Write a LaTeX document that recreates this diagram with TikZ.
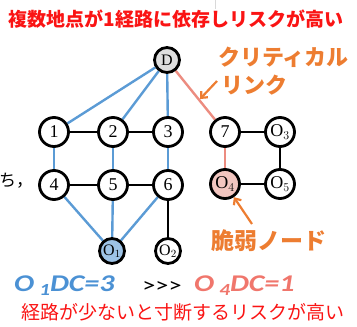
\documentclass[tikz,border=0pt]{standalone}
\usepackage{fontspec}
\setmainfont{Liberation Serif}
\newfontfamily\jp{Noto Sans CJK JP}
\newfontfamily\carl{Carlito}
\usetikzlibrary{arrows.meta,backgrounds}
\definecolor{eblue}{RGB}{91,155,213}
\definecolor{esalmon}{RGB}{236,140,128}
\definecolor{orng}{RGB}{237,125,49}
\definecolor{pinkfill}{RGB}{242,198,192}
\definecolor{bluefill}{RGB}{157,195,230}
\definecolor{grayfill}{RGB}{222,222,222}
\definecolor{dcblue}{RGB}{75,145,212}
\definecolor{dcred}{RGB}{240,118,108}
\definecolor{tred}{RGB}{250,20,20}
\tikzset{
  gnode/.style={circle,draw=black,line width=2.8pt,fill=white,minimum size=29pt,inner sep=0pt,font=\fontsize{18}{18}\selectfont},
  snode/.style={gnode,minimum size=25pt,font=\fontsize{16}{16}\selectfont},
  bedge/.style={draw=eblue,line width=2.4pt},
  kedge/.style={draw=black,line width=2.8pt},
  redge/.style={draw=esalmon,line width=2.4pt},
  oarrow/.style={draw=orng,line width=2.2pt,-{Straight Barb[length=5pt,width=9pt]}},
  otext/.style={text=orng,anchor=west,inner sep=0pt},
  dctext/.style={anchor=west,inner sep=0pt,font=\carl\bfseries\itshape\fontsize{24}{24}\selectfont},
}
\begin{document}
\begin{tikzpicture}[x=1pt,y=-1pt]
\useasboundingbox (0,0) rectangle (357,327);
% faint top frame remnant
\draw[gray!30,line width=0.8pt] (215,0) -- (215,9);
% nodes
\node[snode,fill=grayfill] (D) at (167,60) {D};
\node[gnode] (n1) at (54,132) {1};
\node[gnode] (n2) at (113,132) {2};
\node[gnode] (n3) at (168,132) {3};
\node[gnode] (n7) at (225,132) {7};
\node[gnode] (o3) at (280,132) {O$_3$};
\node[gnode] (n4) at (54,185) {4};
\node[gnode] (n5) at (113,185) {5};
\node[gnode] (n6) at (168,185) {6};
\node[gnode,fill=pinkfill] (o4) at (225,184) {O$_4$};
\node[gnode] (o5) at (280,184) {O$_5$};
\node[snode,fill=bluefill] (o1) at (112,251) {O$_1$};
\node[snode] (o2) at (168,251) {O$_2$};
% edges
\begin{scope}[on background layer]
\path[bedge] (D) -- (n1);
\path[bedge] (D) -- (n2);
\path[bedge] (D) -- (n3);
\path[redge] (D) -- (n7);
\path[kedge] (n1) -- (n2);
\path[kedge] (n2) -- (n3);
\path[kedge] (n7) -- (o3);
\path[kedge] (o3) -- (o5);
\path[kedge] (o4) -- (o5);
\path[kedge] (n4) -- (n5);
\path[kedge] (n5) -- (n6);
\path[bedge] (n1) -- (n4);
\path[bedge] (n2) -- (n5);
\path[bedge] (n3) -- (n6);
\path[redge] (n7) -- (o4);
\path[bedge] (n4) -- (o1);
\path[bedge] (n5) -- (o1);
\path[bedge] (n6) -- (o1);
\path[kedge] (n6) -- (o2);
\end{scope}
% texts
\node[text=tred,font=\jp\bfseries\fontsize{19}{19}\selectfont] (title) at (176,19) {複数地点が1経路に依存しリスクが高い};
\node[otext,font=\jp\bfseries\fontsize{22}{22}\selectfont] (crit1) at (218,57) {クリティカル};
\node[otext,font=\jp\bfseries\fontsize{22}{22}\selectfont] (crit2) at (221,85) {リンク};
\coordinate (ca1) at (217,81);
\coordinate (ca2) at (200,99);
\draw[oarrow] (ca1) -- (ca2);
\node[otext,font=\jp\bfseries\fontsize{23}{23}\selectfont] (weak) at (211,241) {脆弱ノード};
\coordinate (wa1) at (252,224);
\draw[oarrow] (wa1) -- (o4);
\node[anchor=west,font=\jp\fontsize{17}{17}\selectfont,inner sep=0pt] (chi) at (-1,181) {ち，};
\node[dctext,text=dcblue] (dc1) at (14,286) {\scalebox{1.25}[1]{O\,\raisebox{-0.35ex}{\fontsize{17}{17}\selectfont 1}DC=3}};
\node[font=\carl\fontsize{21}{21}\selectfont,inner sep=0pt] (gt) at (162,287) {\scalebox{1.25}[1]{>{}>{}>}};
\node[dctext,text=dcred] (dc2) at (194,286) {\scalebox{1.25}[1]{O\,\raisebox{-0.35ex}{\fontsize{17}{17}\selectfont 4}DC=1}};
\node[text=tred,font=\jp\fontsize{19}{19}\selectfont] (bottom) at (183,312) {経路が少ないと寸断するリスクが高い};
\end{tikzpicture}
\end{document}
